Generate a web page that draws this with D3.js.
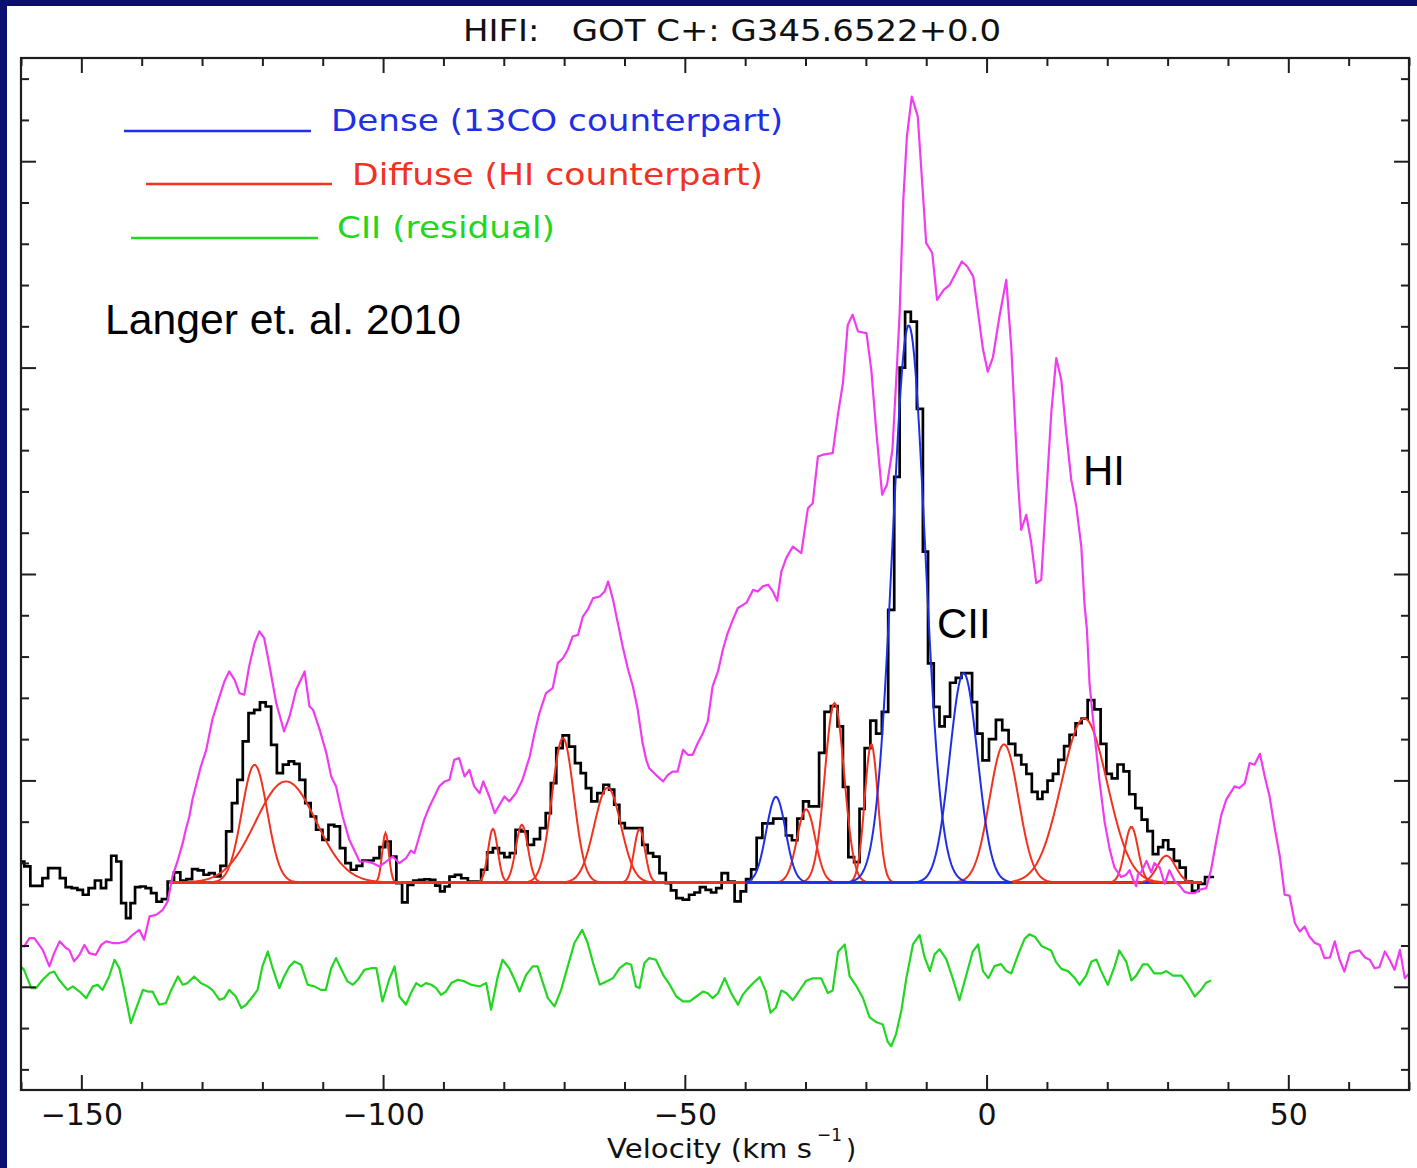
<!DOCTYPE html>
<html><head><meta charset="utf-8">
<script src="https://cdn.jsdelivr.net/npm/d3@7"></script>
<style>html,body{margin:0;padding:0;background:#0a1070;}svg{display:block}</style>
</head><body>
<svg id="chart" width="1417" height="1168"></svg>
<script>
// ---------------- DATA (velocity km/s, intensity in plot units) ----------------
const ciiSpectrum = [
[-159.9,6.07],[-159.0,5.83],[-157.9,4.89],[-156.9,4.89],[-156.0,5.27],[-155.0,5.75],[-154.0,5.75],[-153.1,5.27],
[-152.1,4.83],[-151.1,4.78],[-150.2,4.70],[-149.3,4.46],[-148.3,4.78],[-147.2,5.15],[-146.3,4.78],[-145.5,5.18],
[-144.6,6.35],[-143.8,6.07],[-143.0,4.05],[-142.2,3.33],[-141.5,4.05],[-140.7,4.83],[-139.8,4.86],[-138.9,4.78],
[-138.0,4.54],[-137.1,4.13],[-136.2,4.25],[-135.2,5.10],[-134.1,5.54],[-133.1,5.15],[-132.1,5.22],[-131.2,5.70],
[-130.2,5.64],[-129.3,5.43],[-128.4,5.51],[-127.4,5.35],[-126.5,5.86],[-125.5,7.53],[-124.6,8.90],[-123.7,10.03],
[-122.8,11.89],[-121.8,13.26],[-120.9,13.42],[-119.9,13.78],[-119.0,13.58],[-118.1,11.72],[-117.1,10.35],[-116.1,10.76],
[-115.2,10.92],[-114.3,10.80],[-113.4,10.03],[-112.4,8.90],[-111.6,8.25],[-110.6,7.61],[-109.5,7.12],[-108.6,7.85],
[-107.6,7.77],[-106.7,6.72],[-105.8,5.99],[-104.9,5.67],[-103.9,5.86],[-103.0,6.12],[-102.0,6.12],[-101.1,6.23],
[-100.1,6.77],[-99.2,7.04],[-98.3,6.31],[-97.3,5.02],[-96.4,4.09],[-95.5,4.94],[-94.5,5.15],[-93.6,5.18],
[-92.7,5.21],[-91.8,5.18],[-90.9,4.90],[-90.2,4.62],[-89.4,4.86],[-88.6,5.34],[-87.6,5.42],[-86.5,5.26],
[-85.4,5.10],[-84.3,5.10],[-83.2,5.67],[-82.3,6.51],[-81.3,6.72],[-80.3,6.48],[-79.5,6.28],[-78.5,6.48],
[-77.6,7.61],[-76.6,7.53],[-75.5,6.88],[-74.5,7.15],[-73.5,7.69],[-72.6,8.41],[-71.8,9.87],[-70.8,11.56],
[-69.7,12.18],[-68.7,11.64],[-67.7,10.84],[-66.8,10.35],[-66.0,9.63],[-65.0,8.98],[-64.0,9.38],[-63.0,9.79],
[-62.1,9.55],[-61.3,8.82],[-60.4,7.93],[-59.5,7.69],[-58.5,7.69],[-57.5,7.69],[-56.6,6.88],[-55.7,6.48],
[-54.8,6.31],[-53.6,5.51],[-52.7,5.02],[-51.9,4.67],[-50.9,4.30],[-49.8,4.22],[-48.8,4.46],[-48.0,4.57],
[-47.0,4.83],[-46.1,4.70],[-45.2,4.57],[-44.4,4.78],[-43.4,5.51],[-42.3,5.10],[-41.2,4.14],[-40.3,4.62],
[-39.4,5.22],[-38.6,5.69],[-37.6,7.22],[-36.7,7.92],[-35.8,7.92],[-34.9,8.15],[-33.8,8.15],[-32.7,7.33],
[-31.8,7.10],[-30.9,8.15],[-29.9,8.98],[-29.0,8.74],[-28.2,8.74],[-27.3,11.33],[-26.4,13.32],[-25.2,13.60],
[-24.2,12.62],[-23.4,9.68],[-22.4,6.28],[-21.5,6.04],[-20.6,8.62],[-19.8,11.56],[-18.7,12.90],[-17.9,12.27],
[-16.8,13.32],[-15.8,18.26],[-14.8,24.71],[-14.0,30.00],[-13.0,32.70],[-12.1,32.23],[-11.0,28.00],[-10.1,21.08],
[-9.3,15.67],[-8.2,13.56],[-7.4,12.62],[-6.5,13.09],[-5.6,14.73],[-4.6,14.97],[-3.7,15.20],[-2.8,15.20],
[-2.0,13.79],[-1.15,12.27],[-0.2,10.97],[1.0,12.00],[2.1,12.93],[3.1,12.44],[4.2,11.77],[5.3,11.22],
[6.2,10.77],[7.0,10.32],[8.0,9.44],[8.9,9.10],[9.6,9.44],[10.6,9.99],[11.4,10.32],[12.4,10.99],
[13.3,11.66],[14.2,12.21],[15.3,12.77],[16.2,12.99],[17.3,13.89],[18.4,13.44],[19.4,11.77],[20.3,10.32],
[21.2,10.10],[22.2,10.77],[23.2,10.44],[24.1,9.33],[25.2,8.66],[26.2,8.10],[27.1,7.54],[28.0,6.43],
[28.9,6.77],[29.6,7.10],[30.6,6.66],[31.5,6.10],[32.5,5.77],[33.5,5.10],[34.6,4.65],[35.6,4.99],
[36.8,5.32],[37.7,5.32]
];

const hiSpectrum = [
[-160.3,2.03],[-159.5,1.95],[-158.6,2.36],[-157.8,2.36],[-156.4,1.79],[-155.3,0.99],[-154.5,1.63],[-153.6,2.20],
[-152.5,1.87],[-152.0,1.79],[-151.2,1.23],[-150.3,1.55],[-149.5,2.03],[-148.7,1.63],[-147.6,1.55],[-146.7,2.03],
[-145.9,2.20],[-144.8,2.12],[-143.7,2.12],[-142.6,2.20],[-141.5,2.52],[-140.4,2.76],[-139.6,2.28],[-138.7,3.41],
[-137.6,3.49],[-136.5,3.73],[-135.7,4.13],[-134.9,5.35],[-134.0,6.15],[-133.2,6.96],[-132.7,7.61],[-132.1,8.25],
[-131.6,9.06],[-130.2,10.67],[-129.3,11.48],[-128.3,12.94],[-127.1,14.07],[-126.3,14.79],[-125.5,15.28],[-124.6,14.87],
[-123.8,14.23],[-123.0,14.15],[-122.2,15.52],[-121.3,16.65],[-120.5,17.22],[-119.7,16.89],[-118.8,15.52],[-117.7,13.74],
[-116.4,12.37],[-115.5,13.10],[-114.4,14.39],[-113.0,15.28],[-112.2,13.58],[-111.6,13.42],[-110.5,12.45],[-109.4,11.32],
[-108.6,10.19],[-107.8,9.71],[-106.7,8.25],[-105.6,7.12],[-104.8,6.64],[-103.9,6.07],[-102.8,6.07],[-101.7,5.99],
[-100.6,5.83],[-99.5,6.07],[-98.4,6.31],[-97.3,5.99],[-96.2,6.23],[-95.4,6.60],[-94.8,6.48],[-94.0,7.28],
[-93.2,8.09],[-92.3,8.74],[-91.5,9.22],[-90.7,9.71],[-89.8,9.95],[-89.0,10.03],[-88.2,11.00],[-87.4,11.08],
[-86.5,10.19],[-85.7,10.51],[-84.9,9.71],[-84.0,9.38],[-83.4,9.95],[-82.4,9.22],[-81.5,8.41],[-80.7,8.82],
[-79.9,9.22],[-79.1,8.98],[-78.0,9.38],[-76.9,10.03],[-75.7,11.16],[-74.9,12.29],[-74.1,13.26],[-73.0,14.23],
[-71.9,14.47],[-71.05,15.68],[-70.2,15.92],[-69.4,16.33],[-68.6,16.97],[-67.7,17.05],[-66.9,17.94],[-66.1,18.27],
[-65.2,18.83],[-64.1,18.91],[-63.3,19.15],[-62.7,19.64],[-61.9,18.75],[-61.1,17.62],[-60.3,16.49],[-59.4,15.36],
[-58.6,14.55],[-57.8,13.42],[-57.0,11.81],[-56.4,11.00],[-55.9,10.59],[-54.8,10.27],[-53.6,9.95],[-52.8,10.27],
[-52.0,10.43],[-51.2,10.43],[-50.3,11.48],[-49.5,11.24],[-48.7,11.24],[-47.85,11.81],[-47.0,12.29],[-46.2,12.86],
[-45.4,14.55],[-44.5,15.28],[-43.7,16.33],[-42.9,17.14],[-42.05,17.78],[-41.2,18.35],[-39.8,18.60],[-38.7,19.23],
[-37.9,19.15],[-37.1,19.40],[-36.2,19.48],[-35.4,19.15],[-34.7,18.70],[-34.0,20.12],[-33.2,20.77],[-32.1,21.33],
[-30.7,21.01],[-29.6,23.19],[-28.8,23.43],[-27.95,25.69],[-27.1,25.78],[-25.5,25.86],[-24.6,27.79],[-23.8,29.25],
[-23.0,32.07],[-22.2,32.56],[-21.3,31.75],[-19.9,31.67],[-19.1,29.89],[-18.3,26.99],[-17.3,23.84],[-16.5,24.32],
[-15.6,26.02],[-14.97,29.41],[-14.4,32.64],[-13.8,38.10],[-13.2,41.20],[-12.4,43.13],[-11.4,42.17],[-10.0,36.03],
[-9.0,35.55],[-8.2,33.28],[-7.1,33.77],[-6.1,34.01],[-4.1,35.14],[-3.2,34.90],[-2.2,34.41],[-0.6,30.90],
[0.2,29.80],[1.05,30.50],[2.15,32.50],[3.26,34.25],[4.09,31.02],[4.64,27.80],[5.19,24.56],[5.74,22.14],
[6.58,22.87],[7.41,21.50],[8.24,19.56],[9.06,19.72],[9.89,23.75],[10.72,27.80],[11.55,30.46],[12.38,29.41],
[13.21,26.83],[14.04,24.56],[14.87,23.27],[15.70,21.33],[16.24,18.50],[16.63,17.30],[17.07,14.66],[17.9,12.21],
[18.7,9.99],[19.56,7.99],[20.4,6.66],[21.2,5.77],[22.3,5.32],[23.15,5.43],[23.7,5.65],[24.25,5.21],
[24.8,4.87],[25.08,5.43],[25.6,5.54],[26.5,6.10],[27.3,5.54],[27.8,5.99],[28.7,5.77],[29.5,4.99],
[30.3,5.65],[31.2,5.10],[32.0,4.90],[32.8,4.60],[33.6,4.54],[34.5,4.54],[35.3,4.70],[36.4,4.78],
[37.2,5.67],[38.1,7.12],[38.9,8.33],[39.7,9.06],[41.1,9.71],[41.9,9.63],[42.8,9.87],[43.6,10.84],
[44.4,10.76],[45.3,11.29],[46.1,10.19],[46.9,9.22],[47.7,7.77],[48.6,6.31],[49.4,4.46],[50.2,4.42],
[51.1,3.08],[51.9,2.68],[52.7,2.92],[53.5,2.44],[54.4,2.12],[55.2,2.03],[56.0,1.39],[56.9,1.42],
[57.7,2.20],[58.5,1.31],[59.3,0.74],[60.2,1.63],[61.0,1.71],[61.8,1.76],[62.7,1.42],[63.5,1.31],
[64.3,0.90],[65.1,0.95],[66.0,1.71],[66.8,1.31],[67.6,0.82],[68.5,1.79],[69.3,0.42],[70.1,0.66]
];

const residualSpectrum = [
[-160.3,1.07],[-159.5,0.82],[-158.3,-0.06],[-157.5,-0.06],[-156.4,0.34],[-155.3,0.66],[-154.5,0.74],[-153.7,0.34],
[-152.3,-0.15],[-151.4,0.02],[-150.3,-0.23],[-149.2,-0.55],[-148.1,0.02],[-147.3,0.10],[-146.5,-0.15],[-145.4,0.50],
[-144.5,1.31],[-143.7,0.90],[-142.9,-0.15],[-141.8,-1.76],[-140.9,-1.03],[-139.8,-0.15],[-139.0,-0.23],[-138.2,-0.23],
[-137.1,-0.87],[-136.0,-0.79],[-135.1,-0.15],[-134.0,0.50],[-133.2,0.10],[-132.4,0.18],[-131.3,0.50],[-130.2,0.18],
[-129.1,0.02],[-128.3,-0.15],[-127.1,-0.63],[-126.3,-0.55],[-125.5,-0.15],[-124.4,-0.47],[-123.5,-1.03],[-122.7,-0.87],
[-121.6,-0.47],[-120.8,-0.15],[-120.0,0.99],[-119.1,1.71],[-118.3,0.90],[-117.2,-0.06],[-116.4,0.50],[-115.5,0.99],
[-114.7,1.23],[-113.6,1.07],[-112.5,0.10],[-111.4,0.02],[-110.3,-0.15],[-109.5,-0.15],[-108.6,0.90],[-107.8,1.39],
[-107.0,0.90],[-105.9,0.26],[-105.0,0.10],[-104.2,0.34],[-103.1,0.82],[-102.0,0.90],[-101.1,0.90],[-100.1,-0.71],
[-99.0,0.34],[-98.1,0.99],[-97.3,-0.47],[-96.2,-0.87],[-95.4,-0.31],[-94.5,0.18],[-93.7,0.02],[-92.9,0.18],
[-92.0,0.10],[-91.2,-0.06],[-90.4,-0.39],[-89.6,-0.23],[-88.7,0.18],[-87.6,0.34],[-86.5,0.26],[-85.4,0.10],
[-84.0,0.02],[-82.9,0.18],[-82.1,-1.11],[-81.0,0.50],[-80.2,1.31],[-79.1,0.90],[-78.2,0.34],[-77.4,-0.23],
[-76.3,0.58],[-75.2,0.99],[-74.4,0.99],[-73.5,0.18],[-72.7,-0.55],[-71.6,-0.95],[-70.5,-0.15],[-69.4,0.99],
[-68.3,2.12],[-67.0,2.76],[-66.1,2.12],[-65.2,1.15],[-64.1,0.10],[-63.0,0.26],[-61.9,0.42],[-60.8,0.90],
[-59.7,1.15],[-58.9,1.07],[-58.1,0.02],[-57.5,-0.06],[-56.7,1.15],[-55.9,1.39],[-54.8,1.31],[-53.6,0.58],
[-52.5,0.10],[-51.4,-0.47],[-50.3,-0.71],[-49.2,-0.71],[-48.1,-0.47],[-47.0,-0.23],[-46.2,-0.31],[-45.4,-0.55],
[-44.5,-0.31],[-43.4,0.42],[-42.3,-0.31],[-41.2,-0.87],[-40.4,-0.39],[-39.6,-0.10],[-38.7,0.17],[-37.6,0.47],
[-36.6,-0.20],[-35.8,-1.26],[-34.9,-1.00],[-34.0,-0.18],[-33.2,-0.30],[-32.1,-0.65],[-31.0,-0.18],[-29.9,0.29],
[-28.8,0.41],[-27.4,0.41],[-26.3,-0.30],[-25.5,-0.18],[-24.6,1.70],[-23.5,2.05],[-22.7,0.52],[-21.6,0.05],
[-20.5,-0.53],[-19.4,-1.47],[-18.3,-1.71],[-17.2,-1.83],[-16.4,-2.65],[-15.8,-2.88],[-15.0,-2.29],[-14.1,-1.12],
[-13.3,0.41],[-12.2,2.05],[-11.1,2.52],[-10.3,1.46],[-9.4,0.76],[-8.6,1.58],[-7.8,1.82],[-6.7,1.35],
[-5.6,0.41],[-4.5,-0.65],[-3.4,0.52],[-2.3,1.70],[-1.4,2.05],[-0.6,0.76],[0.3,0.42],[1.3,1.00],
[2.4,1.10],[3.3,0.76],[4.1,0.65],[5.2,1.54],[6.3,2.32],[7.1,2.54],[8.0,2.43],[9.1,1.98],
[9.9,1.87],[10.7,1.76],[11.5,1.21],[12.4,0.87],[13.5,0.76],[14.6,0.43],[15.4,0.09],[16.5,0.54],
[17.35,1.21],[18.2,1.32],[19.0,0.76],[20.1,0.09],[21.2,0.98],[22.0,1.76],[23.15,1.21],[24.0,0.31],
[24.8,0.54],[25.9,1.09],[26.7,1.09],[27.8,0.65],[28.95,0.65],[29.8,0.76],[30.9,0.54],[32.3,0.54],
[33.4,0.09],[34.5,-0.47],[35.6,-0.13],[36.4,0.20],[37.2,0.31]
];

// Gaussian fit components: [centre velocity, amplitude above baseline, sigma]
const diffuseFitsA = [
[-121.3,5.7,2.1],[-116.1,4.9,5.0],[-99.6,2.4,0.55],[-81.8,2.6,0.8],[-77.0,2.8,1.0],[-70.2,7.0,1.8],
[-62.8,4.6,2.2],[-57.5,2.6,0.9],[-29.9,3.55,1.5],[-25.2,8.7,1.6],[-19.1,6.7,1.1],[2.9,6.7,2.4]
];
const denseFits = [[-34.9,4.15,1.6],[-12.9,27.0,2.7],[-3.8,10.15,2.3]];
const diffuseFitsB = [[16.2,7.95,3.8],[24.0,2.7,1.1],[29.8,1.3,1.5]];
const fitBaseline = 5.05;
const fitRangeA = [-135.4, 35.6];
const denseRange = [-40.0, 35.6];
const fitRangeB = [4.3, 35.6];

const xDomain = [-160, 70];
const yDomain = [-5, 45];
const xMajorTicks = [-150, -100, -50, 0, 50];
const xMinorTicks = [-160,-140,-130,-120,-110,-90,-80,-70,-60,-40,-30,-20,-10,10,20,30,40,60,70];
const yMajorTicks = [0, 10, 20, 30, 40];
const yMinorTicks = [-4,-2,2,4,6,8,12,14,16,18,22,24,26,28,32,34,36,38,42,44];

const legendItems = [
  {label:"Dense (13CO counterpart)", color:"#1f2fe6"},
  {label:"Diffuse (HI counterpart)", color:"#f2321f"},
  {label:"CII (residual)", color:"#22d622"}
];
const titleText = "HIFI:   GOT C+: G345.6522+0.0";
const xLabelMain = "Velocity (km s";
const xLabelSup = "\u22121";

// ---------------- DRAWING ----------------
const W = 1417, H = 1168;
const L = 21, R = 1409, T = 58, B = 1090;
const svg = d3.select("#chart");
const navy = "#0a1070";
const axisColor = "#1e1e1e";

svg.append("rect").attr("x",0).attr("y",0).attr("width",W).attr("height",H).attr("fill",navy);
svg.append("rect").attr("x",7).attr("y",6).attr("width",W-7).attr("height",H-6).attr("fill","#fff");

const x = d3.scaleLinear().domain(xDomain).range([L, R]);
const y = d3.scaleLinear().domain(yDomain).range([B, T]);

svg.append("defs").append("clipPath").attr("id","clip")
  .append("rect").attr("x",L).attr("y",T).attr("width",R-L).attr("height",B-T);

const plot = svg.append("g").attr("clip-path","url(#clip)");

const stepLine = d3.line().x(d=>x(d[0])).y(d=>y(d[1])).curve(d3.curveStep);
const line = d3.line().x(d=>x(d[0])).y(d=>y(d[1]));

// black CII histogram
plot.append("path").datum(ciiSpectrum).attr("d",stepLine)
  .attr("fill","none").attr("stroke","#000").attr("stroke-width",2.7).attr("stroke-linejoin","miter");

function gaussCurve(p, range){
  const pts = [];
  for (let v = range[0]; v <= range[1] + 1e-9; v += 0.2){
    pts.push([v, fitBaseline + p[1]*Math.exp(-((v-p[0])**2)/(2*p[2]*p[2]))]);
  }
  return pts;
}
function drawFits(list, range, color){
  list.forEach(p=>{
    plot.append("path").datum(gaussCurve(p, range)).attr("d", line)
      .attr("fill","none").attr("stroke",color).attr("stroke-width",2);
  });
}
drawFits(diffuseFitsA, fitRangeA, legendItems[1].color);
drawFits(denseFits, denseRange, legendItems[0].color);
drawFits(diffuseFitsB, fitRangeB, legendItems[1].color);

// magenta HI
plot.append("path").datum(hiSpectrum).attr("d",line)
  .attr("fill","none").attr("stroke","#f03cf0").attr("stroke-width",2.2).attr("stroke-linejoin","round");

// green residual
plot.append("path").datum(residualSpectrum).attr("d",line)
  .attr("fill","none").attr("stroke",legendItems[2].color).attr("stroke-width",2.2).attr("stroke-linejoin","round");

// frame
svg.append("rect").attr("x",L).attr("y",T).attr("width",R-L).attr("height",B-T)
  .attr("fill","none").attr("stroke",axisColor).attr("stroke-width",2.2);

const fontTicks = "'DejaVu Sans',sans-serif";
function styleAxis(g){
  g.select(".domain").remove();
  g.selectAll(".tick line").attr("stroke",axisColor).attr("stroke-width",2);
  g.selectAll(".tick text").attr("fill","#111").attr("font-size",30).attr("font-family",fontTicks);
}
// bottom
svg.append("g").attr("transform",`translate(0,${B})`)
  .call(d3.axisBottom(x).tickValues(xMajorTicks).tickSize(-15).tickPadding(14).tickFormat(d3.format("d")))
  .call(styleAxis);
svg.append("g").attr("transform",`translate(0,${B})`)
  .call(d3.axisBottom(x).tickValues(xMinorTicks).tickSize(-8).tickFormat(""))
  .call(styleAxis);
// top
svg.append("g").attr("transform",`translate(0,${T})`)
  .call(d3.axisTop(x).tickValues(xMajorTicks).tickSize(-15).tickFormat(""))
  .call(styleAxis);
svg.append("g").attr("transform",`translate(0,${T})`)
  .call(d3.axisTop(x).tickValues(xMinorTicks).tickSize(-8).tickFormat(""))
  .call(styleAxis);
// left
svg.append("g").attr("transform",`translate(${L},0)`)
  .call(d3.axisLeft(y).tickValues(yMajorTicks).tickSize(-15).tickFormat(""))
  .call(styleAxis);
svg.append("g").attr("transform",`translate(${L},0)`)
  .call(d3.axisLeft(y).tickValues(yMinorTicks).tickSize(-8).tickFormat(""))
  .call(styleAxis);
// right
svg.append("g").attr("transform",`translate(${R},0)`)
  .call(d3.axisRight(y).tickValues(yMajorTicks).tickSize(-15).tickFormat(""))
  .call(styleAxis);
svg.append("g").attr("transform",`translate(${R},0)`)
  .call(d3.axisRight(y).tickValues(yMinorTicks).tickSize(-8).tickFormat(""))
  .call(styleAxis);

// title
svg.append("text").attr("x",463).attr("y",41).text(titleText)
  .attr("font-family","'DejaVu Sans',sans-serif")
  .attr("font-size",31).attr("fill","#111").style("white-space","pre")
  .attr("textLength",538).attr("lengthAdjust","spacingAndGlyphs");

// x axis label (main part, superscript, closing parenthesis)
svg.append("text").attr("x",607).attr("y",1158).text(xLabelMain)
  .attr("font-family",fontTicks).attr("font-size",26).attr("fill","#111")
  .attr("textLength",205).attr("lengthAdjust","spacingAndGlyphs");
svg.append("text").attr("x",817).attr("y",1141).text(xLabelSup)
  .attr("font-family",fontTicks).attr("font-size",18).attr("fill","#111")
  .attr("textLength",25).attr("lengthAdjust","spacingAndGlyphs");
svg.append("text").attr("x",846).attr("y",1158).text(")")
  .attr("font-family",fontTicks).attr("font-size",26).attr("fill","#111");

// legend
const legendLayout = [
  {x1:124,x2:311,ly:131,tx:331,ty:131,tl:452},
  {x1:146,x2:332,ly:184,tx:352,ty:185,tl:411},
  {x1:131,x2:318,ly:238,tx:337,ty:238,tl:218}
];
legendItems.forEach((it,i)=>{
  const p = legendLayout[i];
  svg.append("line").attr("x1",p.x1).attr("x2",p.x2).attr("y1",p.ly).attr("y2",p.ly)
    .attr("stroke",it.color).attr("stroke-width",2.4);
  svg.append("text").attr("x",p.tx).attr("y",p.ty).text(it.label)
    .attr("font-family","'DejaVu Sans',sans-serif").attr("font-size",31).attr("fill",it.color)
    .attr("textLength",p.tl).attr("lengthAdjust","spacingAndGlyphs");
});

// annotations
const annFont = "'Liberation Sans',Arial,sans-serif";
svg.append("text").attr("x",105).attr("y",334).text("Langer et. al. 2010")
  .attr("font-family",annFont).attr("font-size",42).attr("fill","#000")
  .attr("textLength",356).attr("lengthAdjust","spacingAndGlyphs");
svg.append("text").attr("x",1083).attr("y",485).text("HI")
  .attr("font-family",annFont).attr("font-size",42).attr("fill","#000");
svg.append("text").attr("x",937).attr("y",638).text("CII")
  .attr("font-family",annFont).attr("font-size",42).attr("fill","#000");
</script>
</body></html>
